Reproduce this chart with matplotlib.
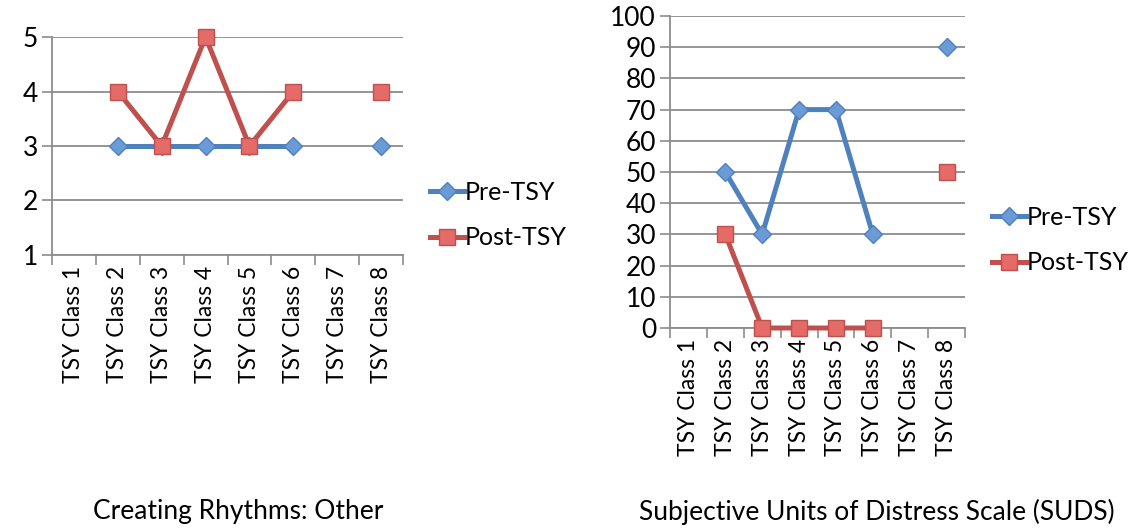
import numpy as np
import matplotlib
matplotlib.use("Agg")
import matplotlib.pyplot as plt

plt.rcParams['font.family'] = ['Lato', 'DejaVu Sans']

classes = ["TSY Class 1", "TSY Class 2", "TSY Class 3", "TSY Class 4",
           "TSY Class 5", "TSY Class 6", "TSY Class 7", "TSY Class 8"]

# Creating Rhythms: Other
rhythm_pre = [np.nan, 3, 3, 3, 3, 3, np.nan, 3]
rhythm_post = [np.nan, 4, 3, 5, 3, 4, np.nan, 4]

# SUDS
suds_pre = [np.nan, 50, 30, 70, 70, 30, np.nan, 90]
suds_post = [np.nan, 30, 0, 0, 0, 0, np.nan, 50]

BLUE = "#4f81bd"
BLUE_FACE = "#6b9bd6"
RED = "#c0504d"
RED_FACE = "#e46b68"
GRID = "#8c8c8c"


def draw_panel(fig, rect, pre, post, yticks, title, title_xy, legend_xy):
    ax = fig.add_axes(rect)
    x = np.arange(len(classes))
    ax.plot(x, pre, color=BLUE, lw=3.6, marker="D", ms=9.5,
            mfc=BLUE_FACE, mec=BLUE, mew=1.0, label="Pre-TSY", zorder=3)
    ax.plot(x, post, color=RED, lw=3.6, marker="s", ms=11,
            mfc=RED_FACE, mec=RED, mew=1.0, label="Post-TSY", zorder=4)

    ax.set_xlim(-0.5, len(classes) - 0.5)
    ax.set_ylim(yticks[0], yticks[-1])
    ax.set_yticks(yticks)
    ax.set_xticks(x)
    ax.set_xticklabels(classes, rotation=90, fontsize=16.5)
    ax.set_xticks(np.arange(len(classes) + 1) - 0.5, minor=True)
    ax.tick_params(axis="x", which="major", length=0, pad=8)
    ax.tick_params(axis="x", which="minor", length=7, width=1.2, color=GRID)
    ax.tick_params(axis="y", length=7, width=1.2, color=GRID,
                   labelsize=19, pad=3)

    ax.grid(axis="y", color=GRID, lw=1.3)
    ax.set_axisbelow(True)
    for s in ("top", "right"):
        ax.spines[s].set_visible(False)
    for s in ("left", "bottom"):
        ax.spines[s].set_color(GRID)
        ax.spines[s].set_linewidth(1.3)

    for line in ax.get_lines():
        line.set_clip_on(False)

    ax.legend(loc="center left", bbox_to_anchor=legend_xy,
              bbox_transform=fig.transFigure, frameon=False, fontsize=18,
              handlelength=1.35, handletextpad=0.05, labelspacing=0.9,
              borderaxespad=0, borderpad=0)
    fig.text(title_xy[0], title_xy[1], title, ha="center", va="center",
             fontsize=19)
    return ax


fig = plt.figure(figsize=(11.37, 5.29), dpi=100)

draw_panel(fig, [52 / 1137, 1 - 255 / 529, 351 / 1137, 218 / 529],
           rhythm_pre, rhythm_post, [1, 2, 3, 4, 5],
           "Creating Rhythms: Other", (238 / 1137, 1 - 512 / 529),
           (430 / 1137, 1 - 215 / 529))

draw_panel(fig, [670 / 1137, 1 - 328 / 529, 295 / 1137, 312 / 529],
           suds_pre, suds_post, list(range(0, 101, 10)),
           "Subjective Units of Distress Scale (SUDS)",
           (877 / 1137, 1 - 512 / 529),
           (992 / 1137, 1 - 240 / 529))

fig.savefig("out.png", dpi=100)
